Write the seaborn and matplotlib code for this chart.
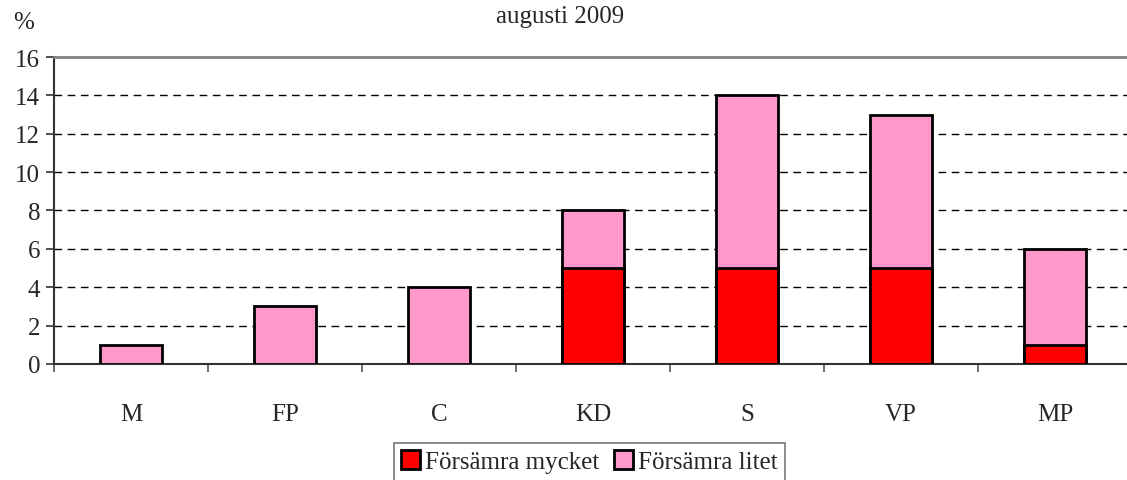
import numpy as np
import pandas as pd
import matplotlib
matplotlib.use("Agg")
import matplotlib.pyplot as plt
import seaborn as sns
from matplotlib.patches import Patch

# data
partier = ["M", "FP", "C", "KD", "S", "VP", "MP"]
forsamra_mycket = [0, 0, 0, 5, 5, 5, 1]
forsamra_litet = [1, 3, 4, 3, 9, 8, 5]

df = pd.DataFrame({"parti": partier,
                   "mycket": forsamra_mycket,
                   "litet": forsamra_litet})
df["total"] = df["mycket"] + df["litet"]

sns.set_style("white")
plt.rcParams["font.family"] = ["Liberation Serif", "DejaVu Serif"]
plt.rcParams["font.size"] = 18

fig = plt.figure(figsize=(11.27, 4.81), dpi=100)
ax = fig.add_axes([0.0479, 0.2412, 0.9565, 0.6382])

red = "#FF0000"
pink = "#FF99CC"

# stacked bars: total in pink, bottom part in red on top of it
sns.barplot(data=df, x="parti", y="total", color=pink, width=0.4,
            edgecolor="black", linewidth=2, saturation=1, ax=ax, zorder=3)
sns.barplot(data=df[df["mycket"] > 0], x="parti", y="mycket", order=partier,
            color=red, width=0.4, edgecolor="black", linewidth=2,
            saturation=1, ax=ax, zorder=4)

ax.set_xlim(-0.5, len(partier) - 0.5)
ax.set_ylim(0, 16)
ax.set_yticks(range(0, 17, 2))
ax.set_xlabel("")
ax.set_ylabel("")

# dashed grid lines
for v in range(2, 16, 2):
    ax.axhline(v, color="black", linestyle=(0, (5.5, 4)), linewidth=1, zorder=1)

ax.spines["right"].set_visible(False)
ax.spines["top"].set_color("#808080")
ax.spines["top"].set_linewidth(2)
ax.spines["left"].set_color("#333333")
ax.spines["left"].set_linewidth(1.5)
ax.spines["bottom"].set_color("#333333")
ax.spines["bottom"].set_linewidth(1.5)

ax.tick_params(axis="y", direction="out", length=6, width=1.2, color="#333333",
               left=True, pad=4, labelsize=18)
ax.tick_params(axis="x", which="major", length=0, pad=28, labelsize=18)
ax.set_xticks(np.arange(-0.5, len(partier), 1), minor=True)
ax.tick_params(axis="x", which="minor", direction="out", length=6, width=1.2,
               color="#555555", bottom=True)

fig.text(0.497, 0.965, "augusti 2009", ha="center", va="center", fontsize=18)
fig.text(0.012, 0.952, "%", ha="left", va="center", fontsize=18)

handles = [Patch(facecolor=red, edgecolor="black", linewidth=2, label="Försämra mycket"),
           Patch(facecolor=pink, edgecolor="black", linewidth=2, label="Försämra litet")]
leg = fig.legend(handles=handles, loc="upper center", bbox_to_anchor=(0.523, 0.077),
                 ncol=2, frameon=True, fancybox=False, fontsize=18,
                 handlelength=0.75, handleheight=0.75, handletextpad=0.2,
                 columnspacing=0.6, borderpad=0.3, borderaxespad=0)
leg.get_frame().set_edgecolor("#555555")
leg.get_frame().set_linewidth(1.2)

fig.savefig("out.png", dpi=100)
